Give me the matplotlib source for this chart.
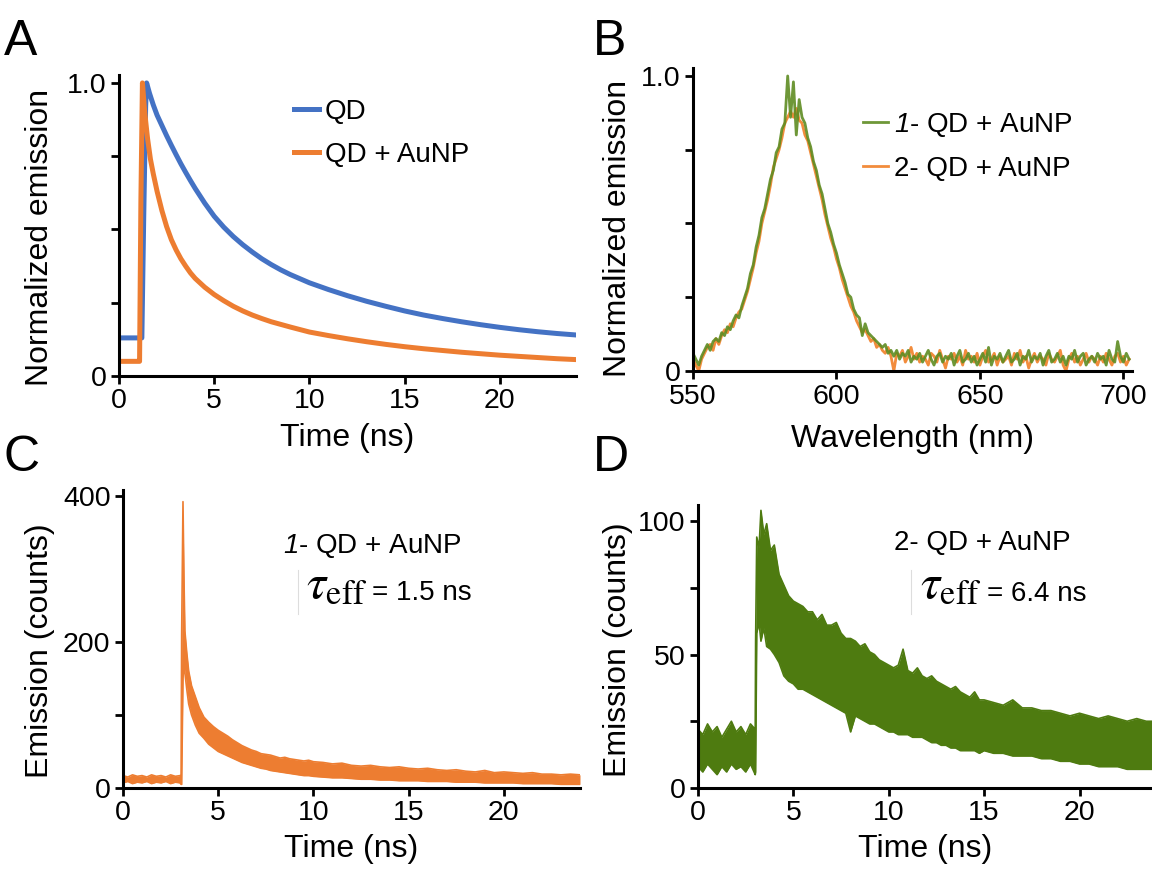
import numpy as np
import matplotlib
matplotlib.use("Agg")
import matplotlib.pyplot as plt
from matplotlib.lines import Line2D

plt.rcParams['font.family'] = ['Liberation Sans', 'DejaVu Sans']
plt.rcParams['mathtext.fontset'] = 'custom'
plt.rcParams['mathtext.rm'] = 'Liberation Sans'
plt.rcParams['mathtext.it'] = 'Liberation Sans:italic'
plt.rcParams['mathtext.cal'] = 'Liberation Sans:italic'   # used for the italic sample numbers

# ---------------- data ----------------
# A : normalized decays
t_qd = [0, 1.1, 1.2, 1.3, 1.4, 1.45, 1.6, 1.8, 2.0, 2.25, 2.5, 2.75, 3.0, 3.25, 3.5,
        3.75, 4.0, 4.5, 5.0, 5.5, 6.0, 6.5, 7.0, 7.5, 8.0, 8.5, 9.0, 10, 11, 12,
        13, 14, 15, 16, 17, 18, 19, 20, 21, 22, 23, 24]
qd_a = [0.13, 0.13, 0.13, 0.55, 0.92, 1.00, 0.965, 0.925, 0.89, 0.855, 0.82, 0.787,
        0.755, 0.724, 0.695, 0.667, 0.64, 0.59, 0.545, 0.508, 0.476, 0.448, 0.423,
        0.40, 0.38, 0.362, 0.346, 0.318, 0.295, 0.274, 0.255, 0.238, 0.222, 0.208,
        0.196, 0.185, 0.175, 0.166, 0.158, 0.151, 0.145, 0.14]
t_au = [0, 1.05, 1.08, 1.15, 1.23, 1.35, 1.5, 1.65, 1.8, 2.0, 2.25, 2.5, 2.75, 3.0,
        3.25, 3.5, 3.75, 4.0, 4.5, 5.0, 5.5, 6.0, 6.5, 7.0, 7.5, 8.0, 9.0, 10, 11,
        12, 13, 14, 15, 16, 17, 18, 19, 20, 21, 22, 23, 24]
au_a = [0.05, 0.05, 0.05, 0.60, 1.00, 0.90, 0.81, 0.74, 0.69, 0.63, 0.565, 0.51,
        0.465, 0.43, 0.40, 0.375, 0.352, 0.333, 0.303, 0.278, 0.257, 0.238, 0.222,
        0.208, 0.196, 0.185, 0.167, 0.15, 0.138, 0.127, 0.117, 0.108, 0.10, 0.093,
        0.087, 0.081, 0.076, 0.071, 0.067, 0.063, 0.059, 0.056]

# B : emission spectra, 550..702 nm in 1 nm steps
wl_b = np.arange(550, 703, 1)
spec1_b = [0.06, 0.04, 0.02, 0.05, 0.07, 0.09, 0.07, 0.10, 0.11, 0.10,
           0.13, 0.12, 0.15, 0.14, 0.17, 0.19, 0.18, 0.22, 0.25, 0.28,
           0.33, 0.36, 0.42, 0.46, 0.52, 0.55, 0.60, 0.65, 0.68, 0.74,
           0.76, 0.82, 0.84, 1.00, 0.86, 0.98, 0.80, 0.92, 0.86, 0.84,
           0.79, 0.76, 0.71, 0.68, 0.63, 0.60, 0.55, 0.50, 0.47, 0.43,
           0.40, 0.36, 0.33, 0.30, 0.26, 0.25, 0.21, 0.19, 0.18, 0.12,
           0.16, 0.13, 0.12, 0.11, 0.10, 0.09, 0.08, 0.09, 0.06, 0.07,
           0.05, 0.07, 0.04, 0.06, 0.05, 0.07, 0.03, 0.05, 0.04, 0.06,
           0.03, 0.05, 0.07, 0.04, 0.02, 0.05, 0.06, 0.03, 0.05, 0.04,
           0.06, 0.02, 0.05, 0.07, 0.03, 0.04, 0.06, 0.03, 0.05, 0.02,
           0.04, 0.06, 0.03, 0.08, 0.02, 0.05, 0.04, 0.06, 0.03, 0.05,
           0.07, 0.03, 0.04, 0.06, 0.02, 0.05, 0.04, 0.07, 0.03, 0.05,
           0.04, 0.06, 0.02, 0.05, 0.07, 0.03, 0.04, 0.06, 0.03, 0.05,
           0.02, 0.05, 0.04, 0.07, 0.03, 0.05, 0.06, 0.02, 0.04, 0.05,
           0.03, 0.06, 0.04, 0.05, 0.02, 0.07, 0.04, 0.03, 0.10, 0.05,
           0.03, 0.06, 0.04]
spec2_b = [0.04, 0.02, 0.00, 0.04, 0.06, 0.08, 0.09, 0.07, 0.11, 0.09,
           0.12, 0.14, 0.13, 0.16, 0.15, 0.18, 0.20, 0.21, 0.24, 0.27,
           0.31, 0.35, 0.40, 0.44, 0.50, 0.54, 0.58, 0.63, 0.69, 0.72,
           0.75, 0.79, 0.84, 0.86, 0.88, 0.86, 0.89, 0.85, 0.84, 0.80,
           0.78, 0.74, 0.70, 0.66, 0.62, 0.58, 0.53, 0.49, 0.45, 0.42,
           0.38, 0.35, 0.31, 0.28, 0.25, 0.22, 0.20, 0.17, 0.15, 0.13,
           0.14, 0.12, 0.10, 0.11, 0.08, 0.09, 0.07, 0.06, 0.08, 0.05,
           0.00, 0.06, 0.05, 0.07, 0.03, 0.05, 0.08, 0.04, 0.06, 0.03,
           0.05, 0.04, 0.02, 0.06, 0.05, 0.03, 0.07, 0.04, 0.01, 0.05,
           0.04, 0.06, 0.03, 0.05, 0.02, 0.07, 0.04, 0.05, 0.03, 0.06,
           0.02, 0.05, 0.07, 0.03, 0.04, 0.06, 0.02, 0.05, 0.03, 0.04,
           0.05, 0.02, 0.06, 0.04, 0.07, 0.03, 0.05, 0.01, 0.04, 0.06,
           0.03, 0.05, 0.04, 0.02, 0.06, 0.04, 0.03, 0.05, 0.07, 0.02,
           0.00, 0.04, 0.06, 0.03, 0.05, 0.02, 0.04, 0.06, 0.03, 0.05,
           0.04, 0.02, 0.05, 0.03, 0.06, 0.04, 0.02, 0.05, 0.06, 0.03,
           0.05, 0.02, 0.04]

# C : counts, sample 1 (noise band: low / high edges)
t_c = [0, 0.25, 0.5, 0.75, 1.0, 1.25, 1.5, 1.75, 2.0, 2.25, 2.5, 2.75, 3.0,
       3.05, 3.08, 3.15, 3.2, 3.25, 3.35, 3.45, 3.6, 3.8,
       4.0, 4.25, 4.5, 4.75, 5.0, 5.25, 5.5, 5.75, 6.0, 6.25, 6.5, 6.75, 7.0,
       7.25, 7.5, 7.75, 8.0, 8.25, 8.5, 8.75, 9.0, 9.25, 9.5, 9.75, 10.0,
       10.5, 11, 11.5, 12, 12.5, 13, 13.5, 14, 14.5, 15, 15.5, 16, 16.5, 17,
       17.5, 18, 18.5, 19, 19.5, 20, 20.5, 21, 21.5, 22, 22.5, 23, 23.5, 24]
hi_c = [17, 15, 18, 16, 17, 15, 18, 16, 17, 15, 18, 16, 17,
        14, 210, 392, 290, 215, 185, 160, 140, 125,
        110, 97, 90, 84, 79, 75, 71, 66, 62, 58, 55, 52, 50,
        47, 46, 45, 43, 41, 42, 40, 39, 38, 37, 38, 36,
        35, 33, 34, 31, 30, 31, 29, 28, 29, 27, 26, 27, 25, 24,
        25, 23, 22, 24, 21, 22, 21, 20, 21, 19, 19, 18, 19, 18]
lo_c = [7, 9, 6, 8, 7, 9, 6, 8, 7, 9, 6, 8, 7,
        5, 5, 150, 170, 158, 135, 115, 100, 86,
        75, 68, 60, 55, 50, 47, 44, 41, 38, 35, 33, 31, 29,
        27, 26, 24, 23, 22, 21, 20, 19, 18, 17, 17, 16,
        15, 14, 14, 13, 12, 12, 11, 11, 10, 10, 10, 9, 9, 9,
        8, 8, 8, 7, 7, 7, 7, 6, 6, 6, 6, 5, 5, 5]

# D : counts, sample 2
t_d = [0, 0.25, 0.5, 0.75, 1.0, 1.25, 1.5, 1.75, 2.0, 2.25, 2.5, 2.75, 3.0,
       3.02, 3.08, 3.2, 3.3, 3.45, 3.6, 3.8,
       4.0, 4.25, 4.5, 4.75, 5.0, 5.25, 5.5, 5.75, 6.0, 6.25, 6.5, 6.75, 7.0,
       7.25, 7.5, 7.75, 8.0, 8.25, 8.5, 8.75, 9.0, 9.25, 9.5, 9.75, 10.0,
       10.25, 10.5, 10.75, 11.0, 11.25, 11.5, 11.75, 12.0, 12.25, 12.5, 12.75,
       13.0, 13.25, 13.5, 13.75, 14.0, 14.25, 14.5, 14.75, 15.0,
       15.5, 16, 16.5, 17, 17.5, 18, 18.5, 19, 19.5, 20, 20.5, 21, 21.5, 22,
       22.5, 23, 23.5, 24]
hi_d = [22, 20, 24, 21, 23, 19, 22, 25, 21, 23, 20, 24, 22,
        55, 94, 90, 104, 95, 99, 89,
        91, 80, 76, 72, 70, 69, 68, 66, 66, 63, 65, 61, 61,
        62, 58, 56, 56, 55, 53, 54, 51, 50, 48, 47, 46,
        45, 46, 52, 44, 43, 45, 42, 41, 42, 40, 39,
        38, 37, 38, 36, 35, 34, 36, 33, 33,
        32, 31, 33, 30, 30, 29, 29, 28, 27, 28, 27, 26, 27, 26,
        25, 26, 25, 25]
lo_d = [8, 6, 9, 7, 5, 8, 6, 9, 7, 8, 6, 9, 5,
        6, 58, 62, 55, 60, 53, 52,
        50, 47, 42, 40, 39, 37, 37, 36, 35, 34, 33, 32, 31,
        30, 29, 28, 21, 27, 26, 25, 24, 24, 23, 22, 21,
        21, 20, 20, 20, 19, 19, 19, 18, 17, 17, 16,
        16, 15, 15, 14, 14, 14, 14, 13, 14,
        13, 13, 12, 12, 12, 11, 11, 10, 10, 9, 9, 8, 8, 8,
        7, 7, 7, 7]

BLUE = '#4472C4'
ORANGE = '#ED7D31'
GREEN_B = '#5E8C22'
ORANGE_B = '#F28C3C'
GREEN_D = '#4E7B10'

W, H = 1152, 876
fig = plt.figure(figsize=(W / 100, H / 100), dpi=100)


def axes_px(l, r, b, t):
    return fig.add_axes([l / W, 1 - b / H, (r - l) / W, (b - t) / H])


def style(ax):
    for s in ('top', 'right'):
        ax.spines[s].set_visible(False)
    for s in ('left', 'bottom'):
        ax.spines[s].set_linewidth(2.2)
    ax.tick_params(direction='out', length=6, width=2, labelsize=20.5, pad=3)


# ---------------- A ----------------
ax_a = axes_px(119, 576, 376, 75)
ax_a.plot(t_qd, qd_a, color=BLUE, lw=3.6, label='QD', solid_joinstyle='round')
ax_a.plot(t_au, au_a, color=ORANGE, lw=3.6, label='QD + AuNP', solid_joinstyle='round')
ax_a.set_xlim(0, 24)
ax_a.set_ylim(0, 1.027)
ax_a.set_xticks([0, 5, 10, 15, 20])
ax_a.set_yticks([0, 0.25, 0.5, 0.75, 1.0])
ax_a.set_yticklabels(['0', '', '', '', '1.0'])
style(ax_a)
ax_a.set_xlabel('Time (ns)', fontsize=23)
ax_a.set_ylabel('Normalized emission', fontsize=23)
ax_a.xaxis.set_label_coords(0.5, -0.156)
ax_a.yaxis.set_label_coords(-0.14, 0.46)
ax_a.legend(loc='upper left', bbox_to_anchor=(294 / W, 1 - 99 / H),
            bbox_transform=fig.transFigure, frameon=False, fontsize=20,
            handlelength=0.9, handletextpad=0.2, labelspacing=0.6,
            borderpad=0, borderaxespad=0)

# ---------------- B ----------------
ax_b = axes_px(693, 1132, 371, 68)
ax_b.plot(wl_b, spec2_b, color=ORANGE_B, lw=2.0, label='2- QD + AuNP')
ax_b.plot(wl_b, spec1_b, color=GREEN_B, lw=2.0, alpha=0.9, label=r'$\mathcal{1}$- QD + AuNP')
ax_b.set_xlim(550, 703)
ax_b.set_ylim(0, 1.027)
ax_b.set_xticks([550, 600, 650, 700])
ax_b.set_yticks([0, 0.25, 0.5, 0.75, 1.0])
ax_b.set_yticklabels(['0', '', '', '', '1.0'])
style(ax_b)
ax_b.set_xlabel('Wavelength (nm)', fontsize=23)
ax_b.set_ylabel('Normalized emission', fontsize=23)
ax_b.xaxis.set_label_coords(0.5, -0.175)
ax_b.yaxis.set_label_coords(-0.137, 0.47)
h, l = ax_b.get_legend_handles_labels()
ax_b.legend(h[::-1], l[::-1], loc='upper left', bbox_to_anchor=(863 / W, 1 - 111 / H),
            bbox_transform=fig.transFigure, frameon=False, fontsize=20,
            handlelength=0.9, handletextpad=0.2, labelspacing=0.6,
            borderpad=0, borderaxespad=0)

# ---------------- C ----------------
ax_c = axes_px(123, 580, 788, 490)
ax_c.fill_between(t_c, lo_c, hi_c, color=ORANGE, lw=0)
ax_c.plot(t_c, hi_c, color=ORANGE, lw=1.2)
ax_c.plot(t_c, lo_c, color=ORANGE, lw=1.2)
ax_c.set_xlim(0, 24)
ax_c.set_ylim(0, 408)
ax_c.set_xticks([0, 5, 10, 15, 20])
ax_c.set_yticks([0, 100, 200, 400])
ax_c.set_yticklabels(['0', '', '200', '400'])
style(ax_c)
ax_c.set_xlabel('Time (ns)', fontsize=23)
ax_c.set_ylabel('Emission (counts)', fontsize=23)
ax_c.xaxis.set_label_coords(0.5, -0.154)
ax_c.yaxis.set_label_coords(-0.149, 0.46)

# ---------------- D ----------------
ax_d = axes_px(698, 1152, 788, 505)
ax_d.fill_between(t_d, lo_d, hi_d, color=GREEN_D, lw=0)
ax_d.plot(t_d, hi_d, color=GREEN_D, lw=1.2)
ax_d.plot(t_d, lo_d, color=GREEN_D, lw=1.2)
ax_d.set_xlim(0, 23.8)
ax_d.set_ylim(0, 106)
ax_d.set_xticks([0, 5, 10, 15, 20])
ax_d.set_yticks([0, 25, 50, 75, 100])
ax_d.set_yticklabels(['0', '', '50', '', '100'])
style(ax_d)
ax_d.set_xlabel('Time (ns)', fontsize=23)
ax_d.set_ylabel('Emission (counts)', fontsize=23)
ax_d.xaxis.set_label_coords(0.5, -0.163)
ax_d.yaxis.set_label_coords(-0.143, 0.49)

# ---------------- annotations ----------------
fig.text(283 / W, 1 - 553 / H, r'$\mathcal{1}$- QD + AuNP', fontsize=20, va='baseline')
fig.text(367 / W, 1 - 597 / H, r'$\tau_{\mathrm{eff}}$', fontsize=35,
         math_fontfamily='stix', ha='right', va='baseline')
fig.text(372 / W, 1 - 600 / H, '= 1.5 ns', fontsize=20, va='baseline')

fig.text(894 / W, 1 - 550 / H, '2- QD + AuNP', fontsize=20, va='baseline')
fig.text(981 / W, 1 - 597 / H, r'$\tau_{\mathrm{eff}}$', fontsize=35,
         math_fontfamily='stix', ha='right', va='baseline')
fig.text(987 / W, 1 - 601 / H, '= 6.4 ns', fontsize=20, va='baseline')

# faint cursor marks left of the tau labels
for x0 in (298, 911):
    fig.add_artist(Line2D([x0 / W, x0 / W], [1 - 570 / H, 1 - 614 / H],
                          transform=fig.transFigure, color='#dddddd', lw=0.8))

# panel letters
for letter, x0, y0 in (('A', 4, 55), ('B', 593, 55), ('C', 4, 471), ('D', 593, 471)):
    fig.text(x0 / W, 1 - y0 / H, letter, fontsize=36, va='baseline')

fig.savefig('out.png', dpi=100)
